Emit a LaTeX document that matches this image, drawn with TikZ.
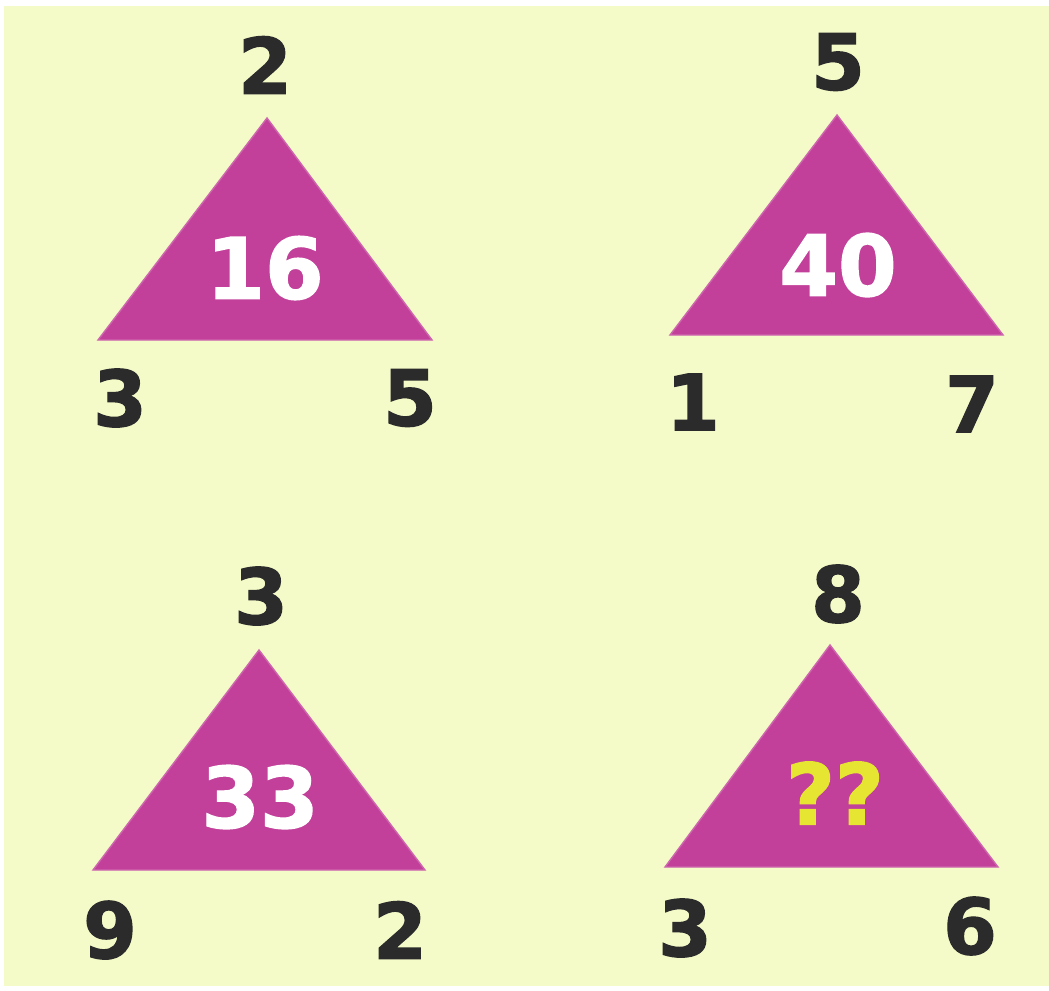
\documentclass[tikz,border=0pt]{standalone}
\usepackage{fontspec}
\newfontfamily\numfont{DejaVu Sans}[BoldFont={* Bold}, BoldFeatures={FakeBold=1.6}]
\usepackage{tikz}
\usepackage{xcolor}

\definecolor{paper}{HTML}{F4FAC8}
\definecolor{magenta}{HTML}{C2409A}
\definecolor{ink}{HTML}{2B2B2B}
\definecolor{quiz}{HTML}{E6E632}

\tikzset{
    tri/.style={fill=magenta, draw=magenta!80!white, line width=0.4pt},
    corner/.style={text=ink, font=\numfont\bfseries\fontsize{22}{22}\selectfont, inner sep=0pt},
    inside/.style={text=white, font=\numfont\bfseries\fontsize{24}{24}\selectfont, inner sep=0pt},
    ask/.style={text=quiz, font=\numfont\bfseries\fontsize{24}{24}\selectfont, inner sep=0pt}
}

\begin{document}
\begin{tikzpicture}[x=0.01cm, y=-0.01cm]
    % Background
    \fill[white] (0,0) rectangle (1049,990);
    \fill[paper] (4,6) rectangle (1049,986);
    \useasboundingbox (0,0) rectangle (1049,990);

    % Triangle 1
    \fill[tri] (267,118) -- (98,340) -- (432,340) -- cycle;
    \node[inside] (c1) at (265,268) {16};
    \node[corner] (t1) at (265,65) {2};
    \node[corner] (l1) at (120,398) {3};
    \node[corner] (r1) at (410,398) {5};

    % Triangle 2
    \fill[tri] (837,115) -- (670,335) -- (1003,335) -- cycle;
    \node[inside] (c2) at (838,265) {40};
    \node[corner] (t2) at (838,62) {5};
    \node[corner] (l2) at (693,402) {1};
    \node[corner] (r2) at (972,404) {7};

    % Triangle 3
    \fill[tri] (259,650) -- (93,870) -- (425,870) -- cycle;
    \node[inside] (c3) at (260,797) {33};
    \node[corner] (t3) at (261,596) {3};
    \node[corner] (l3) at (110,930) {9};
    \node[corner] (r3) at (400,930) {2};

    % Triangle 4
    \fill[tri] (830,645) -- (665,867) -- (998,867) -- cycle;
    \node[ask] (c4) at (835,793) {??};
    \node[corner] (t4) at (838,594) {8};
    \node[corner] (l4) at (685,928) {3};
    \node[corner] (r4) at (970,926) {6};
\end{tikzpicture}
\end{document}
